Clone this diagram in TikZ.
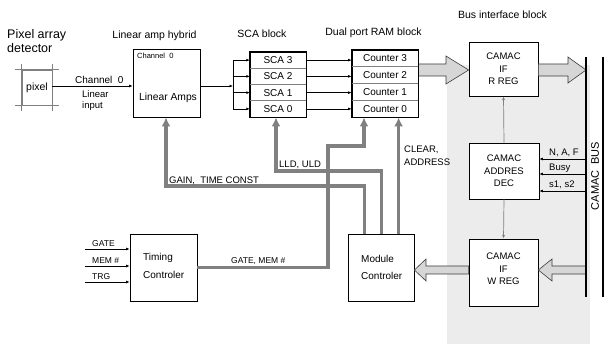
\documentclass[tikz,border=0pt]{standalone}
\usepackage{fontspec}
\setmainfont{Liberation Sans}
\usetikzlibrary{arrows.meta}
\definecolor{gline}{RGB}{128,128,128}
\definecolor{bgray}{RGB}{236,236,236}
\definecolor{afill}{RGB}{214,214,214}
\definecolor{adraw}{RGB}{60,60,60}
\newcommand\myfs[2]{\fontsize{#1}{#2}\selectfont}
\begin{document}
\begin{tikzpicture}[x=1pt,y=-1pt,
 blk/.style={draw=black, line width=0.8pt, fill=white, inner sep=0pt, align=center},
 scarow/.style={inner sep=0pt, minimum height=16.25pt, minimum width=56pt, font=\myfs{10}{12}},
 cntrow/.style={inner sep=0pt, minimum height=16.75pt, minimum width=66pt, font=\myfs{10}{12}},
 lbl/.style={inner sep=0pt, anchor=base west},
 ttl/.style={inner sep=0pt, anchor=base, font=\myfs{10.5}{12}},
 thinarr/.style={line width=0.6pt, -{Latex[length=3.4pt,width=2.8pt]}},
 gbus/.style={draw=gline, line width=3.6pt, -{Latex[length=9pt,width=9pt]}},
 garr/.style={draw=gline, line width=0.7pt, -{Latex[length=3.6pt,width=3pt]}},
 harr/.style={fill=afill, draw=adraw, line width=0.6pt, line join=miter},
 sepline/.style={draw=gline, line width=1pt}]
\useasboundingbox (0,0) rectangle (606,344);
\fill[bgray] (447,65) rectangle (590,344);

% boxes
\node[blk, minimum width=67pt, minimum height=68pt] (la) at (166.5,83) {};
\node[blk, minimum width=56pt, minimum height=65pt] (sca) at (278,84.5) {};
\node[blk, minimum width=66pt, minimum height=67pt] (cnt) at (385,83.5) {};
\node[blk, minimum width=69pt, minimum height=54pt, font=\myfs{9.5}{12.5}] (rr) at (503.5,69) {CAMAC\\IF\\R REG};
\node[blk, minimum width=70pt, minimum height=56pt, font=\myfs{9.5}{12.5}] (dec) at (504,171) {CAMAC\\ADDRES\\DEC};
\node[blk, minimum width=69pt, minimum height=67pt] (wr) at (503.5,272.5) {};
\node[blk, minimum width=66pt, minimum height=67pt] (mc) at (381,267.5) {};
\node[blk, minimum width=67pt, minimum height=67pt] (tc) at (163.5,267.5) {};

% block arrows
\draw[harr] (cnt.east |- 0,64) -- (446,64) -- (446,56) -- (rr.west |- 0,70) -- (446,84) -- (446,76) -- (cnt.east |- 0,76) -- cycle;
\draw[harr] (rr.east |- 0,64) -- (568,64) -- (568,57) -- (586,70) -- (568,83) -- (568,76) -- (rr.east |- 0,76) -- cycle;
\draw[harr] (586,266) -- (552,266) -- (552,259) -- (wr.east |- 0,270) -- (552,281) -- (552,274) -- (586,274) -- cycle;
\draw[harr] (wr.west |- 0,266) -- (426,266) -- (426,259) -- (mc.east |- 0,270) -- (426,281) -- (426,274) -- (wr.west |- 0,274) -- cycle;

% box texts
\node[inner sep=0pt, font=\myfs{9.5}{12.5}, align=center] (wrt) at (503.5,269) {CAMAC\\IF\\W REG};
\node[inner sep=0pt, anchor=west, align=left, font=\myfs{10}{18}] (tct) at (143,266) {Timing\\Controler};
\node[inner sep=0pt, anchor=west, align=left, font=\myfs{10}{17}] (mct) at (361,267.5) {Module\\Controler};
\node[inner sep=0pt, anchor=base, font=\myfs{10.3}{12}] (lat) at (168,100.7) {Linear Amps};
\node[lbl, font=\myfs{7.5}{9}] (lach) at (137,58.3) {Channel\ \ 0};

% SCA rows
\node[scarow] (sca3) at (278,60.125) {SCA 3};
\node[scarow] (sca2) at (278,76.375) {SCA 2};
\node[scarow] (sca1) at (278,92.625) {SCA 1};
\node[scarow] (sca0) at (278,108.875) {SCA 0};
\draw[sepline] (sca.west |- 0,68.25) -- (sca.east |- 0,68.25);
\draw[sepline] (sca.west |- 0,84.5) -- (sca.east |- 0,84.5);
\draw[sepline] (sca.west |- 0,100.75) -- (sca.east |- 0,100.75);
% Counter rows
\node[cntrow] (c3) at (385,58.375) {Counter 3};
\node[cntrow] (c2) at (385,75.125) {Counter 2};
\node[cntrow] (c1) at (385,91.875) {Counter 1};
\node[cntrow] (c0) at (385,108.625) {Counter 0};
\draw[sepline] (cnt.west |- 0,66.75) -- (cnt.east |- 0,66.75);
\draw[sepline] (cnt.west |- 0,83.5) -- (cnt.east |- 0,83.5);
\draw[sepline] (cnt.west |- 0,100.25) -- (cnt.east |- 0,100.25);
\draw[line width=0.8pt] (sca.south west) rectangle (sca.north east);
\draw[line width=0.8pt] (cnt.south west) rectangle (cnt.north east);

% pixel
\node[draw=gline, line width=0.9pt, minimum width=30pt, minimum height=35pt, inner sep=0pt, font=\myfs{10.5}{12}] (pix) at (37,87.5) {pixel};
\draw[gline, line width=0.9pt] ([xshift=-7pt]pix.north west) -- ([xshift=7pt]pix.north east);
\draw[gline, line width=0.9pt] ([xshift=-7pt]pix.south west) -- ([xshift=7pt]pix.south east);
\draw[gline, line width=0.9pt] ([yshift=6pt]pix.north west) -- ([yshift=-6pt]pix.south west);
\draw[gline, line width=0.9pt] ([yshift=6pt]pix.north east) -- ([yshift=-6pt]pix.south east);

% thin connections
\coordinate (fan) at (233,86);
\draw[thinarr] (pix.east |- fan) -- (la.west |- fan);
\draw[thinarr] (la.east |- fan) -- (fan);
\draw[line width=0.6pt] (fan |- sca3.west) -- (fan |- sca0.west);
\foreach \r in {sca3,sca2,sca1,sca0} \draw[thinarr] (fan |- \r.west) -- (\r.west);
\foreach \r in {sca3,sca2,sca1,sca0} \draw[thinarr] (\r.east) -- (\r.east -| cnt.west);

% timing inputs
\coordinate (g1) at (85,249);
\coordinate (g2) at (85,266);
\coordinate (g3) at (85,282);
\draw[thinarr] (g1) -- (g1 -| tc.west);
\draw[thinarr] (g2) -- (g2 -| tc.west);
\draw[thinarr] (g3) -- (g3 -| tc.west);
\node[lbl, font=\myfs{8.5}{10}] (lg1) at (92,246.5) {GATE};
\node[lbl, font=\myfs{8.5}{10}] (lg2) at (92,263.5) {MEM \#};
\node[lbl, font=\myfs{8.5}{10}] (lg3) at (92,279.5) {TRG};

% bus
\draw[line width=2pt] (586,57) -- (586,297);
\draw[line width=2.5pt] (603,57) -- (603,297);
\node[rotate=90, inner sep=0pt, font=\myfs{11}{12}] (cb) at (595,176) {CAMAC\ \ BUS};
\coordinate (b1) at (586,159);
\coordinate (b2) at (586,174);
\coordinate (b3) at (586,191);
\draw[thinarr] (b1) -- (b1 -| dec.east);
\draw[thinarr] (b2) -- (b2 -| dec.east);
\draw[thinarr] (b3) -- (b3 -| dec.east);
\node[lbl, font=\myfs{9.5}{11}] (lb1) at (549,155.5) {N, A, F};
\node[lbl, font=\myfs{9.5}{11}] (lb2) at (549,170.5) {Busy};
\node[lbl, font=\myfs{9.5}{11}] (lb3) at (549,187.5) {s1, s2};

\draw[garr] (dec.north) -- (rr.south);
\draw[garr] (dec.south) -- (wr.north);

% thick gray control lines
\coordinate (m1) at ([xshift=17pt]mc.north west);
\coordinate (m2) at ([xshift=34pt]mc.north west);
\coordinate (m3) at ([xshift=51pt]mc.north west);
\coordinate (gk) at (166,186);
\coordinate (lk) at (276,171);
\coordinate (tk) at (328,146);
\coordinate (tk2) at (364,146);
\draw[gbus] (m1) |- (gk) -- (gk |- la.south);
\draw[gbus] (m2) |- (lk) -- (lk |- sca.south);
\draw[gbus] (m3) -- (m3 |- cnt.south);
\draw[gbus] (tc.east) -| (tk) -- (tk2) -- (tk2 |- cnt.south);

\node[lbl, font=\myfs{9.5}{11}] (lgain) at (169,183.3) {GAIN,\ \ TIME CONST};
\node[lbl, font=\myfs{9.5}{11}] (llld) at (279,167.3) {LLD, ULD};
\node[lbl, font=\myfs{9.5}{11}] (lclr1) at (404,152.5) {CLEAR,};
\node[lbl, font=\myfs{9.5}{11}] (lclr2) at (404,165.5) {ADDRESS};
\node[lbl, font=\myfs{8.5}{10}] (lgm) at (231,263.5) {GATE, MEM \#};

% titles and labels
\node[lbl, font=\myfs{12.5}{14}] (tp1) at (7,39) {Pixel array};
\node[lbl, font=\myfs{12.5}{14}] (tp2) at (7,53) {detector};
\node[ttl] (tla) at (154.5,38.5) {Linear amp hybrid};
\node[ttl] (tsca) at (262,37.5) {SCA block};
\node[ttl] (tram) at (373.5,36) {Dual port RAM block};
\node[ttl] (tbus) at (502.5,18.5) {Bus interface block};
\node[lbl, font=\myfs{10}{12}] (lch) at (75,83.5) {Channel\ \ 0};
\node[lbl, font=\myfs{9.5}{11}] (lli) at (82,98) {Linear};
\node[lbl, font=\myfs{9.5}{11}] (lin) at (82,108.5) {input};
\end{tikzpicture}
\end{document}
